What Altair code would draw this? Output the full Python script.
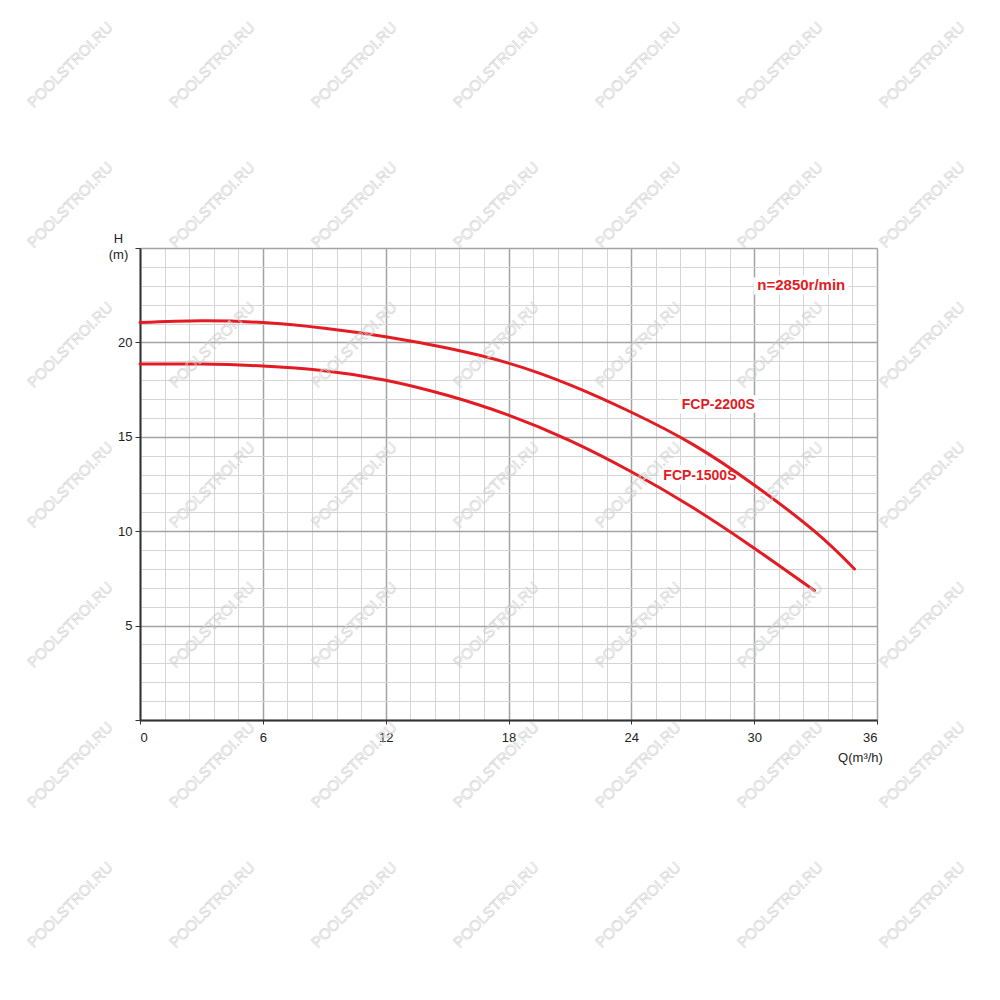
import altair as alt
import pandas as pd

# FCP-2200S curve: Q (m3/h), H (m)
q_2200 = [0, 3, 6, 9, 12, 15, 18, 21, 24, 27, 30, 33, 34.9]
h_2200 = [21.05, 21.15, 21.05, 20.75, 20.3, 19.7, 18.9, 17.75, 16.3, 14.6, 12.45, 9.95, 8.0]

# FCP-1500S curve
q_1500 = [0, 3, 6, 9, 12, 15, 18, 21, 24, 27, 30, 32.95]
h_1500 = [18.85, 18.85, 18.75, 18.5, 18.0, 17.2, 16.15, 14.8, 13.15, 11.25, 9.1, 6.85]

# text labels in data units
pump_labels = ["FCP-2200S", "FCP-1500S"]
pump_label_q = [28.25, 27.35]
pump_label_h = [16.7, 12.95]
speed_label = ["n=2850r/min"]
speed_label_q = [32.3]
speed_label_h = [23.05]

# grid: minor every 1.2 m3/h and 1 m, major every 6 and 5
x_vals = [round(1.2 * i, 1) for i in range(31)]
y_vals = list(range(26))

W, H = 737, 472
RED = "#e31b23"
FONT = "Liberation Sans"

curves = pd.DataFrame({
    "Q": q_2200 + q_1500,
    "H": h_2200 + h_1500,
    "pump": ["FCP-2200S"] * len(q_2200) + ["FCP-1500S"] * len(q_1500),
})

major_x = "abs(datum.value % 6) < 0.01"
major_y = "datum.value % 5 === 0"

x_axis = alt.Axis(
    values=x_vals,
    tickCount=100,
    labelOverlap=False,
    labelExpr=f"{major_x} ? format(datum.value, 'd') : ''",
    grid=True,
    gridColor={"condition": {"test": major_x, "value": "#a3a3a3"}, "value": "#d4d4d4"},
    gridWidth={"condition": {"test": major_x, "value": 1.5}, "value": 1},
    tickColor={"condition": {"test": major_x, "value": "#333"}, "value": "rgba(0,0,0,0)"},
    tickSize=4,
    labelPadding=7,
    labelFont=FONT, labelFontSize=13, labelColor="#222",
    domainColor="#333", domainWidth=2,
    title="Q(m³/h)", titleFont=FONT, titleFontSize=13, titleFontWeight="normal",
    titleColor="#222", titleX=720, titleY=37, titleAlign="center", titleBaseline="middle",
)

y_axis = alt.Axis(
    values=y_vals,
    tickCount=100,
    labelOverlap=False,
    labelExpr=f"{major_y} && datum.value > 0 && datum.value < 25 ? format(datum.value, 'd') : ''",
    grid=True,
    gridColor={"condition": {"test": major_y, "value": "#a3a3a3"}, "value": "#d4d4d4"},
    gridWidth={"condition": {"test": major_y, "value": 1.5}, "value": 1},
    tickColor={"condition": {"test": major_y, "value": "#333"}, "value": "rgba(0,0,0,0)"},
    tickSize=5,
    labelPadding=3,
    labelFont=FONT, labelFontSize=13, labelColor="#222",
    domainColor="#333", domainWidth=2,
    title=["H", "(m)"], titleFont=FONT, titleFontSize=13, titleFontWeight="normal",
    titleColor="#222", titleAngle=0, titleX=-22, titleY=-10, titleAlign="center",
    titleBaseline="middle", titleLineHeight=16,
)

xs = alt.Scale(domain=[0, 36], nice=False, zero=False)
ys = alt.Scale(domain=[0, 25], nice=False, zero=False)

lines = alt.Chart(curves).mark_line(
    color=RED, strokeWidth=3, interpolate="natural", strokeCap="round"
).encode(
    x=alt.X("Q:Q", scale=xs, axis=x_axis),
    y=alt.Y("H:Q", scale=ys, axis=y_axis),
    detail="pump:N",
)

pump_df = pd.DataFrame({"t": pump_labels, "Q": pump_label_q, "H": pump_label_h})
speed_df = pd.DataFrame({"t": speed_label, "Q": speed_label_q, "H": speed_label_h})


def halo(df, size):
    return alt.Chart(df).mark_text(
        font=FONT, fontSize=size, fontWeight="bold",
        fill="white", stroke="white", strokeWidth=9
    ).encode(x="Q:Q", y="H:Q", text="t:N")


def label(df, size):
    return alt.Chart(df).mark_text(
        font=FONT, fontSize=size, fontWeight="bold", fill=RED
    ).encode(x="Q:Q", y="H:Q", text="t:N")


# watermark grid, page pixels converted to data units
px_per_q = W / 36
px_per_h = H / 25
wm = pd.DataFrame([
    {"Q": (70 + 142 * i - 140) / px_per_q, "H": (720 - (65 + 140 * j)) / px_per_h, "t": "POOLSTROI.RU"}
    for i in range(7) for j in range(8)
])
watermark = alt.Chart(wm).mark_text(
    font=FONT, fontSize=15, angle=315, fill="white", fillOpacity=0,
    stroke="#cfcfcf", strokeWidth=0.6
).encode(x="Q:Q", y="H:Q", text="t:N")

chart = alt.layer(
    halo(pump_df, 14), halo(speed_df, 15), lines,
    label(pump_df, 14), label(speed_df, 15), watermark
).properties(
    width=W, height=H,
    autosize=alt.AutoSizeParams(type="none"),
    padding={"left": 132, "top": 240, "right": 115, "bottom": 272},
    background="white",
).configure_view(strokeWidth=0)

chart.save("out.html", embed_options={"renderer": "svg", "actions": False})
